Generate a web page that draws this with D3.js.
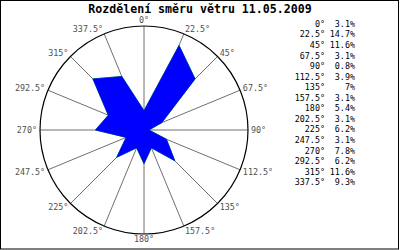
<!DOCTYPE html>
<html>
<head>
<meta charset="utf-8">
<script src="https://cdn.jsdelivr.net/npm/d3@7"></script>
<style>
  body { margin: 0; background: #fff; }
  svg { display: block; }
</style>
</head>
<body>
<svg id="graf"></svg>
<script>
let smery = [0, 22.5, 45, 67.5, 90, 112.5, 135, 157.5, 180, 202.5, 225, 247.5, 270, 292.5, 315, 337.5]
let hodnoty = [3.1, 14.7, 11.6, 3.1, 0.8, 3.9, 7, 3.1, 5.4, 3.1, 6.2, 3.1, 7.8, 6.2, 11.6, 9.3]
let titulek = 'Rozdělení směru větru 11.05.2009'

let width = 400
let height = 250
let cx = 144
let cy = 130
let radius = 104
let mono = '"DejaVu Sans Mono", "Liberation Mono", monospace'

let datos = smery.map((s, i) => ({ smer: s, hodnota: hodnoty[i] }))

let svg = d3.select('#graf')
  .attr('width', width)
  .attr('height', height)

svg.append('rect')
  .attr('x', 0.5).attr('y', 0.5)
  .attr('width', 398).attr('height', 248.5)
  .attr('fill', '#fff')
  .attr('stroke', '#000')

svg.append('text')
  .attr('x', 200).attr('y', 13)
  .attr('text-anchor', 'middle')
  .style('font-family', mono)
  .style('font-weight', 'bold')
  .style('font-size', '11.6px')
  .text(titulek)

let uhel = d3.scaleLinear().domain([0, 360]).range([0, 2 * Math.PI])
let r = d3.scaleLinear().domain([0, 16.7]).range([0, radius])

let g = svg.append('g')
  .attr('transform', `translate(${cx}, ${cy})`)

// paprsky
g.selectAll('line.paprsek')
  .data(datos)
  .enter().append('line')
  .attr('class', 'paprsek')
  .attr('x1', 0).attr('y1', 0)
  .attr('x2', d => radius * Math.sin(uhel(d.smer)))
  .attr('y2', d => -radius * Math.cos(uhel(d.smer)))
  .attr('stroke', '#707070')
  .attr('stroke-width', 1)

g.append('circle')
  .attr('r', radius)
  .attr('fill', 'none')
  .attr('stroke', '#000')
  .attr('stroke-width', 1.2)

let ruzice = d3.lineRadial()
  .angle(d => uhel(d.smer))
  .radius(d => r(d.hodnota))
  .curve(d3.curveLinearClosed)

g.append('path')
  .attr('d', ruzice(datos))
  .attr('fill', 'none')
  .attr('stroke', '#00cc00')
  .attr('stroke-width', 1)

g.append('path')
  .attr('d', ruzice(datos))
  .attr('fill', '#0000ff')
  .attr('stroke', '#0000ff')
  .attr('stroke-width', 0.6)

// popisky smeru
g.selectAll('text.popisek')
  .data(datos)
  .enter().append('text')
  .attr('class', 'popisek')
  .attr('x', d => (radius + 3) * Math.sin(uhel(d.smer)))
  .attr('y', d => -radius * Math.cos(uhel(d.smer)) - 5.5 * Math.cos(uhel(d.smer)))
  .attr('dy', '0.35em')
  .attr('text-anchor', d => {
    let s = Math.sin(uhel(d.smer))
    if (Math.abs(s) < 0.01) return 'middle'
    return s > 0 ? 'start' : 'end'
  })
  .style('font-family', mono)
  .style('font-size', '8.4px')
  .attr('fill', '#505050')
  .text(d => d.smer + '°')

// legenda
let legenda = svg.append('g')
let yLeg = d3.scaleLinear().domain([0, 1]).range([24, 34.55])

legenda.selectAll('text.smer')
  .data(datos)
  .enter().append('text')
  .attr('class', 'smer')
  .attr('x', 325)
  .attr('y', (d, i) => yLeg(i))
  .attr('dy', '0.35em')
  .attr('text-anchor', 'end')
  .style('font-family', mono)
  .style('font-size', '8.4px')
  .text(d => d.smer + '°')

legenda.selectAll('text.hodnota')
  .data(datos)
  .enter().append('text')
  .attr('class', 'hodnota')
  .attr('x', 355)
  .attr('y', (d, i) => yLeg(i))
  .attr('dy', '0.35em')
  .attr('text-anchor', 'end')
  .style('font-family', mono)
  .style('font-size', '8.4px')
  .text(d => d.hodnota + '%')
</script>
</body>
</html>
